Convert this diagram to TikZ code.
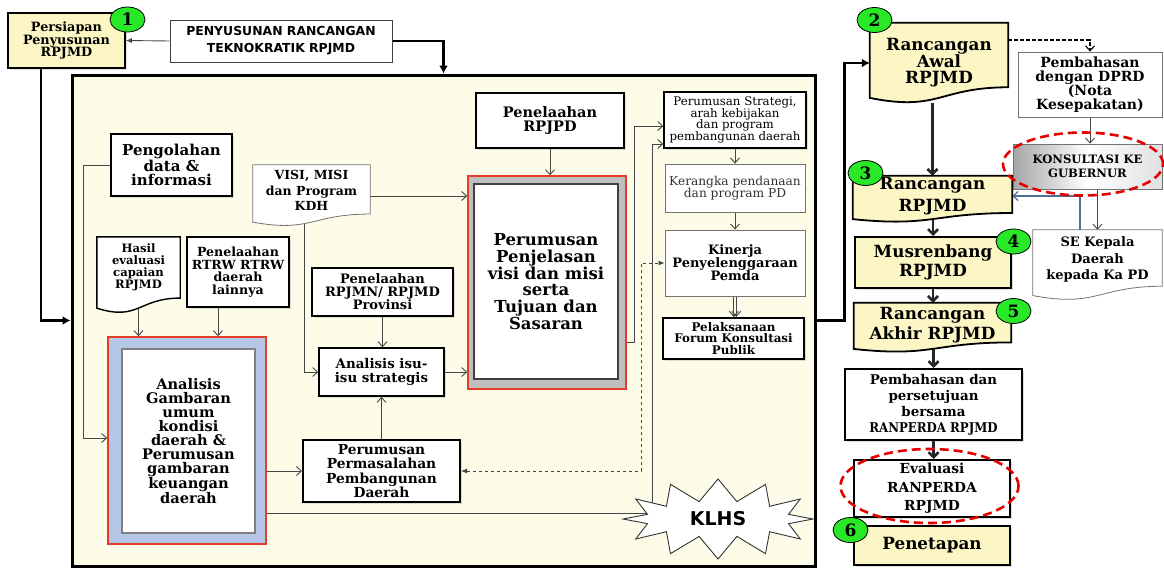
\documentclass[tikz,border=0pt]{standalone}
\usepackage{fontspec}
\setmainfont{DejaVu Serif}
\newfontfamily\sansf{DejaVu Sans}
\usetikzlibrary{arrows.meta,calc,shapes.geometric,shapes.symbols,backgrounds,shadows}
\pgfdeclarelayer{lines}
\pgfsetlayers{background,lines,main}

\definecolor{cream}{RGB}{253,252,232}
\definecolor{paleyellow}{RGB}{252,246,196}
\definecolor{okgreen}{RGB}{40,232,40}
\definecolor{softblue}{RGB}{180,199,231}
\definecolor{redline}{RGB}{228,60,40}
\definecolor{steel}{RGB}{80,110,150}
\definecolor{linegray}{RGB}{70,70,70}

\newcommand{\fs}[2]{\fontsize{#1}{#2}\selectfont}

% wavy document outline around a node, #2 = extra depth below the node
\newcommand{\docshape}[3]{%
  \coordinate (dnw) at (#1.north west);
  \coordinate (dse) at ($(#1.south east)+(0,#2)$);
  \coordinate (dne) at (dnw -| dse);
  \coordinate (dsw) at (dnw |- dse);
  \coordinate (dr) at ($(dne)!0.802!(dse)$);
  \coordinate (dc) at ($(dne)!1.1075!(dse)$);
  \coordinate (dl) at ($(dnw)!0.934!(dsw)$);
  \path[#3] (dnw) -- (dne) -- (dr)
    .. controls ($(dr)!0.5!(dr -| dnw)$) and ($(dc)!0.5!(dc -| dnw)$) .. (dl) -- cycle;}

\begin{document}
\begin{tikzpicture}[x=1pt,y=-1pt,
  every node/.style={align=center},
  box/.style={draw=black, line width=1.6pt, fill=white, inner sep=1pt,
    drop shadow={shadow xshift=1.5pt, shadow yshift=-1.5pt, opacity=0.25}},
  thinbox/.style={draw=black!55, line width=0.8pt, fill=white, inner sep=1pt},
  yellowbox/.style={box, fill=paleyellow},
  docnode/.style={inner sep=1pt},
  badge/.style={ellipse, draw=black, line width=0.8pt, fill=okgreen, minimum width=35pt, minimum height=25pt, inner sep=0pt, font=\bfseries\fs{17}{17}},
  flow/.style={draw=linegray, line width=0.9pt, -{Straight Barb[length=5pt,width=9pt]}},
  flowline/.style={draw=linegray, line width=0.9pt},
  dashflow/.style={draw=linegray, line width=0.9pt, dashed, {Latex[length=6pt,width=5pt]}-{Latex[length=6pt,width=5pt]}},
  bigflow/.style={draw=black, line width=2.6pt, -{Latex[length=8pt,width=9pt]}},
  stepflow/.style={draw=black!85, line width=2.6pt, -{Straight Barb[length=5pt,width=10pt]}},
  redring/.style={draw=red!90!black, line width=2.6pt, dash pattern=on 9pt off 5pt},
]
\useasboundingbox (0,0) rectangle (1164,568);

\begin{pgfonlayer}{background}
  \node[draw=black, line width=3pt, fill=cream, minimum width=743pt, minimum height=491pt, inner sep=0pt] (frame) at (443.5,320.5) {};
\end{pgfonlayer}

% top left
\node[yellowbox, minimum width=117pt, minimum height=55pt, font=\bfseries\fs{12.8}{12.5}] (persiapan) at (66.5,40.5) {Persiapan\\Penyusunan\\RPJMD};
\node[thinbox, draw=black!75, line width=1pt, minimum width=222pt, minimum height=42pt, font=\sansf\bfseries\fs{12.4}{17}] (tekno) at (281,41) {PENYUSUNAN RANCANGAN\\TEKNOKRATIK RPJMD};

% inside the frame
\node[box, line width=2pt, minimum width=121pt, minimum height=62pt, font=\bfseries\fs{15}{14}] (olah) at (171.5,165) {Pengolahan\\data \&\\informasi};
\node[docnode, minimum width=117pt, minimum height=51pt, font=\bfseries\fs{12.5}{15.5}] (visi) at (311.5,190.5) {VISI, MISI\\dan Program\\KDH};
\node[docnode, minimum width=83pt, minimum height=60pt, font=\bfseries\fs{11.6}{12}] (hasil) at (138.5,267) {Hasil\\evaluasi\\capaian\\RPJMD};
\node[box, line width=1.5pt, minimum width=102pt, minimum height=70pt, font=\bfseries\fs{12.6}{12.5}] (rtrw) at (238,272) {Penelaahan\\RTRW RTRW\\daerah\\lainnya};
\node[box, line width=1.5pt, minimum width=141pt, minimum height=48pt, font=\bfseries\fs{13}{12.5}] (rpjmn) at (382.5,292) {Penelaahan\\RPJMN/ RPJMD\\Provinsi};
\node[draw=redline, line width=1.5pt, fill=softblue, minimum width=158pt, minimum height=207pt] (anal) at (187,440.5) {};
\node[draw=black!50, line width=1.5pt, fill=white, minimum width=133pt, minimum height=184pt, font=\bfseries\fs{14.6}{14}] (analin) at (188.5,441) {Analisis\\Gambaran\\umum\\kondisi\\daerah \&\\Perumusan\\gambaran\\keuangan\\daerah};
\node[box, line width=1.5pt, minimum width=125pt, minimum height=48pt, font=\bfseries\fs{13.4}{14}] (isu) at (381.5,372) {Analisis isu-\\isu strategis};
\node[box, line width=2pt, minimum width=157pt, minimum height=62pt, font=\bfseries\fs{13.8}{14.3}] (masalah) at (381.5,471) {Perumusan\\Permasalahan\\Pembangunan\\Daerah};
\node[box, line width=2pt, minimum width=148pt, minimum height=55pt, font=\bfseries\fs{14.5}{14}] (rpjpd) at (550,120.5) {Penelaahan\\RPJPD};
\node[draw=redline, line width=1.5pt, fill=black!25, minimum width=158pt, minimum height=213pt] (vmo) at (547,282.5) {};
\node[draw=black!75, line width=2pt, fill=white, minimum width=144pt, minimum height=195pt, font=\bfseries\fs{16.5}{16.7}] (vmi) at (546,281.5) {Perumusan\\Penjelasan\\visi dan misi\\serta\\Tujuan dan\\Sasaran};
\node[box, line width=1.4pt, minimum width=142pt, minimum height=56pt, font=\fs{11.8}{11.7}] (strategi) at (735,120) {Perumusan Strategi,\\arah kebijakan\\dan program\\pembangunan daerah};
\node[thinbox, minimum width=140pt, minimum height=48pt, text=black!80, font=\fs{12.2}{12}] (kerangka) at (735,188) {Kerangka pendanaan\\dan program PD};
\node[thinbox, minimum width=140pt, minimum height=66pt, font=\bfseries\fs{13}{13}] (kinerja) at (735,263) {Kinerja\\Penyelenggaraan\\Pemda};
\node[box, line width=2pt, minimum width=141pt, minimum height=41pt, font=\bfseries\fs{11.9}{11.7}] (forum) at (733.5,338.5) {Pelaksanaan\\Forum Konsultasi\\Publik};
\node[starburst, starburst points=12, starburst point height=22pt, random starburst=0, draw=black!80, line width=0.9pt, fill=white, minimum width=190pt, minimum height=80pt, inner sep=0pt, font=\sansf\bfseries\fs{19}{19}] (klhs) at (718,519) {KLHS};

% right column
\node[docnode, minimum width=138pt, minimum height=80pt, font=\bfseries\fs{16.8}{16.5}] (awal) at (939,63) {Rancangan\\Awal\\RPJMD};
\node[thinbox, minimum width=144pt, minimum height=65pt, font=\bfseries\fs{14}{14}] (dprd) at (1090,84.5) {Pembahasan\\dengan DPRD\\(Nota\\Kesepakatan)};
\node[draw=black!55, line width=0.8pt, left color=black!35, right color=black!12, middle color=white, minimum width=149pt, minimum height=45pt, font=\bfseries\fs{11.6}{14}] (konsul) at (1087.5,166.5) {KONSULTASI KE\\GUBERNUR};
\node[docnode, minimum width=129pt, minimum height=59pt, font=\bfseries\fs{13}{16.5}] (se) at (1097.5,259.5) {SE Kepala\\Daerah\\kepada Ka PD};
\node[docnode, minimum width=159pt, minimum height=40pt, font=\bfseries\fs{16.8}{22}] (rancangan) at (932.5,196) {Rancangan\\RPJMD};
\node[yellowbox, line width=2pt, minimum width=156pt, minimum height=51pt, font=\bfseries\fs{16.8}{19}] (musren) at (933,262.5) {Musrenbang\\RPJMD};
\node[docnode, minimum width=157pt, minimum height=44pt, font=\bfseries\fs{16.8}{20}] (akhir) at (932.5,325) {Rancangan\\Akhir RPJMD};
\node[box, line width=2pt, minimum width=177pt, minimum height=71pt, font=\bfseries\fs{13.4}{16}] (bahas) at (933.5,404.5) {Pembahasan dan\\persetujuan\\bersama\\\scalebox{0.88}[1]{RANPERDA RPJMD}};
\node[box, line width=2pt, minimum width=156pt, minimum height=57pt, font=\bfseries\fs{13.8}{18.5}] (evaluasi) at (932,488.5) {Evaluasi\\RANPERDA\\RPJMD};
\node[yellowbox, line width=2pt, minimum width=156pt, minimum height=39pt, font=\bfseries\fs{16.8}{16.5}] (penetapan) at (932,545.5) {Penetapan};

% red rings
\draw[redring] ([xshift=-4.5pt,yshift=2.5pt]konsul.center) ellipse [x radius=80pt, y radius=31.5pt];
\draw[redring] ([xshift=-2.5pt,yshift=2.5pt]evaluasi.center) ellipse [x radius=89pt, y radius=37pt];

% step numbers
\node[badge] (one) at (127.5,19.5) {1};
\node[badge] (two) at (874.5,20) {2};
\node[badge] (three) at (865.5,173) {3};
\node[badge] (four) at (1013.5,241.5) {4};
\node[badge] (five) at (1013.5,311) {5};
\node[badge] (six) at (850.5,530) {6};

\begin{pgfonlayer}{lines}
  % main route
  \draw[flow, -{Latex[length=6pt,width=5pt]}] (tekno.west) -- (persiapan.east);
  \draw[bigflow] (tekno.east) -| (frame.north);
  \draw[bigflow] ([xshift=-25.5pt]persiapan.south) |- (frame.west);
  \draw[bigflow] (frame.east) -- ++(28,0) |- (awal.west);
  % inside the frame
  \draw[flow] (olah.west) -- ++(-27,0) |- ([yshift=2.5pt]anal.west);
  \draw[flow] ([yshift=-5.5pt]visi.east) -- ([yshift=-5.5pt]visi.east -| vmo.west);
  \draw[flow] ([xshift=-7.5pt]visi.south) |- (isu.west);
  \draw[flow] (hasil.south) -- (hasil.south |- anal.north);
  \draw[flow] ([xshift=-20pt]rtrw.south) -- ([xshift=-20pt]rtrw.south |- anal.north);
  \draw[flow] (rpjmn.south) -- (rpjmn.south |- isu.north);
  \draw[flow] (isu.east) -- (isu.east -| vmo.west);
  \draw[flow] (masalah.north) -- (masalah.north |- isu.south);
  \draw[flow] (masalah.west -| anal.east) -- (masalah.west);
  \draw[flow] (rpjpd.south) -- (rpjpd.south |- vmo.north);
  \draw[flowline] ([yshift=31pt]anal.south east) -| (klhs.center);
  \draw[flow] ([xshift=-66pt]klhs.center) |- ([yshift=-24pt]strategi.west);
  \draw[flow] ([yshift=-60.5pt]vmi.east) -- ++(15,0) |- ([yshift=-6pt]strategi.west);
  \draw[dashflow] (masalah.east) -- ++(180,0) |- (kinerja.west);
  \draw[flow] (strategi.south) -- (kerangka.north);
  \draw[flow] (kerangka.south) -- (kinerja.north);
  \draw[flow] ([xshift=-1.2pt]kinerja.south) -- ([xshift=-1.2pt]kinerja.south |- forum.north);
  \draw[flow] ([xshift=1.2pt]kinerja.south) -- ([xshift=1.2pt]kinerja.south |- forum.north);
  % right column
  \draw[flow, draw=black, line width=1.1pt, dash pattern=on 4pt off 2pt] ([yshift=23pt]awal.east) -| (dprd.north);
  \draw[flow] (dprd.south) -- (dprd.south |- konsul.north);
  \draw[flow] (se.north |- konsul.south) -- (se.north);
  \draw[flow, draw=steel, line width=1.2pt] ([xshift=-17.5pt]se.north) |- (rancangan.east);
  \draw[stepflow] (awal.south -| rancangan.north) -- (rancangan.north);
  \draw[stepflow] (rancangan.south -| musren.north) -- (musren.north);
  \draw[stepflow] (musren.south) -- (musren.south |- akhir.north);
  \draw[stepflow] (akhir.south -| bahas.north) -- (bahas.north);
  \draw[stepflow] (bahas.south) -- (bahas.south |- evaluasi.north);
  % document outlines
  \docshape{visi}{10}{draw=black!55, line width=0.8pt, fill=white}
  \docshape{hasil}{16}{draw=black, line width=1.4pt, fill=white}
  \docshape{awal}{0}{draw=black, line width=1.8pt, fill=paleyellow}
  \docshape{rancangan}{6}{draw=black, line width=1.8pt, fill=paleyellow}
  \docshape{akhir}{5}{draw=black, line width=1.8pt, fill=paleyellow}
  \docshape{se}{11}{draw=black!55, line width=0.8pt, fill=white}
\end{pgfonlayer}
\end{tikzpicture}
\end{document}
